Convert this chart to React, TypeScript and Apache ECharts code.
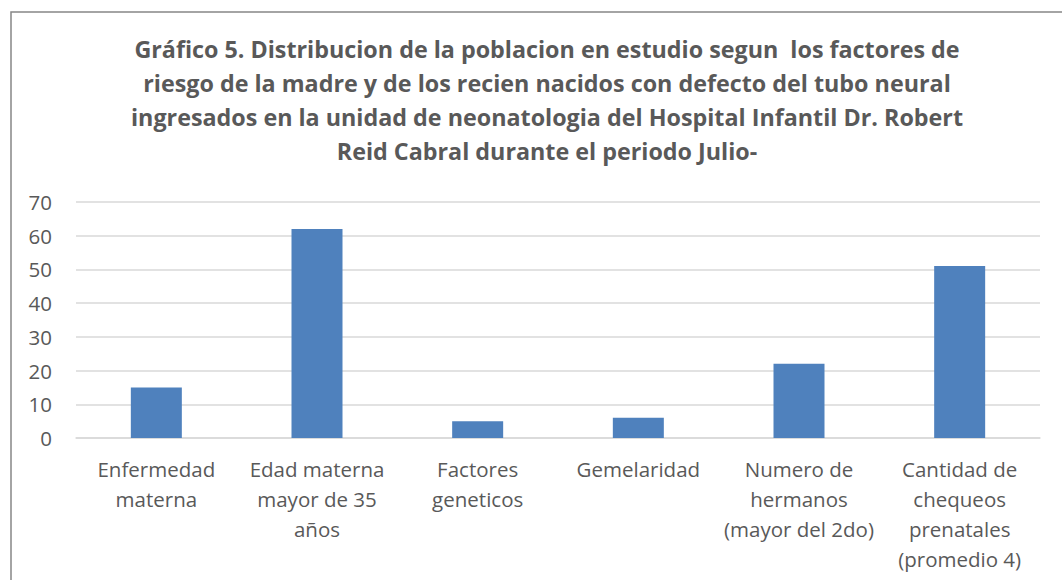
import React, { useEffect, useRef } from "react";
import * as echarts from "echarts";

const categories = [
  "Enfermedad\nmaterna",
  "Edad materna\nmayor de 35\naños",
  "Factores\ngeneticos",
  "Gemelaridad",
  "Numero de\nhermanos\n(mayor del 2do)",
  "Cantidad de\nchequeos\nprenatales\n(promedio 4)",
];
const values = [15, 62, 5, 6, 22, 51];
const titleText =
  "Gráfico 5. Distribucion de la poblacion en estudio segun  los factores de\nriesgo de la madre y de los recien nacidos con defecto del tubo neural\ningresados en la unidad de neonatologia del Hospital Infantil Dr. Robert\nReid Cabral durante el periodo Julio-";

export default function App() {
  const ref = useRef<HTMLDivElement>(null);
  useEffect(() => {
    if (!ref.current) return;
    const chart = echarts.init(ref.current, null, { renderer: "svg" });
    const font = "'Open Sans', sans-serif";
    chart.setOption({
      animation: false,
      backgroundColor: "#ffffff",
      title: {
        text: titleText,
        left: 542,
        top: 27,
        textAlign: "center",
        textStyle: {
          fontFamily: font,
          fontSize: 23.3,
          fontWeight: "bold",
          color: "#595959",
          lineHeight: 34,
        },
      },
      graphic: [
        {
          type: "rect",
          shape: { x: 11, y: 12, width: 1200, height: 700 },
          style: { fill: "none", stroke: "#878787", lineWidth: 1.5 },
          silent: true,
        },
      ],
      grid: { left: 76, right: 22, top: 202, bottom: 142 },
      xAxis: {
        type: "category",
        data: categories,
        axisLine: { show: true, lineStyle: { color: "#d9d9d9", width: 1.5 } },
        axisTick: { show: false },
        axisLabel: {
          interval: 0,
          margin: 16,
          fontFamily: font,
          fontSize: 20.5,
          lineHeight: 30,
          color: "#595959",
          align: "center",
        },
      },
      yAxis: {
        type: "value",
        min: 0,
        max: 70,
        interval: 10,
        axisLine: { show: false },
        axisTick: { show: false },
        splitLine: { lineStyle: { color: "#d9d9d9", width: 1.5 } },
        axisLabel: {
          margin: 24,
          fontFamily: font,
          fontSize: 20.5,
          color: "#595959",
        },
      },
      series: [
        {
          type: "bar",
          data: values,
          barWidth: 51,
          itemStyle: { color: "#4f81bd" },
        },
      ],
    });
    return () => chart.dispose();
  }, []);
  return (
    <div
      ref={ref}
      style={{ position: "fixed", left: 0, top: 0, width: 1062, height: 580 }}
    />
  );
}
